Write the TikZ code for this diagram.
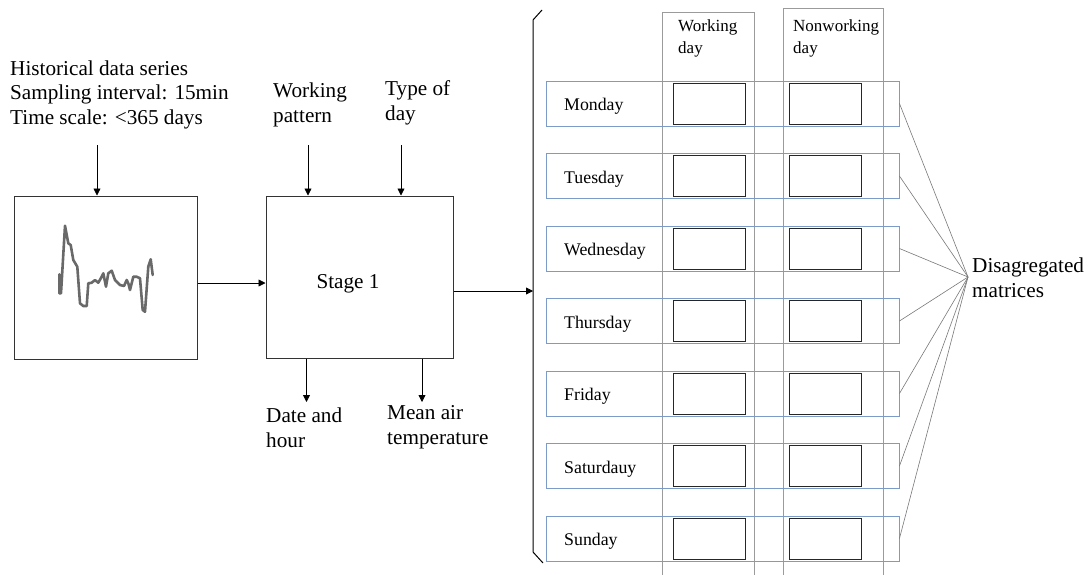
\documentclass[tikz,border=0pt]{standalone}
\usepackage{fontspec}
\setmainfont{Liberation Serif}
\usetikzlibrary{arrows.meta}
\definecolor{rowblue}{RGB}{125,155,200}
\definecolor{colgray}{RGB}{155,155,155}
\definecolor{wavegray}{RGB}{105,105,105}
\definecolor{linkgray}{RGB}{120,120,120}
\begin{document}
\begin{tikzpicture}[x=1pt,y=-1pt,
  big/.style={font=\fontsize{21.2}{24.5}\selectfont, inner sep=0pt, align=left, anchor=base west},
  small/.style={font=\fontsize{17}{22}\selectfont, inner sep=0pt, align=left, anchor=base west},
  daylbl/.style={font=\fontsize{17.8}{22}\selectfont, inner sep=0pt, anchor=base west},
  arr/.style={-{Triangle[length=7pt,width=7pt]}, line width=0.8pt},
  blk/.style={draw=black!80, line width=1pt, inner sep=0pt},
  rowbox/.style={draw=rowblue, line width=0.9pt, minimum width=353pt, minimum height=45pt, inner sep=0pt},
  cell/.style={draw=black!85, line width=0.9pt, minimum width=72pt, minimum height=41pt, inner sep=0pt},
  colbox/.style={draw=colgray, line width=1pt},
  link/.style={draw=linkgray, line width=0.6pt}
]
\useasboundingbox (0,0) rectangle (1092,574);

% ---- left part ----
\node[big] (hist) at (10,124) {Historical data series\\Sampling interval: 15min\\Time scale: <365 days};
\node[blk, minimum width=183pt, minimum height=163pt] (series) at (105.5,277.5) {};
\coordinate (histin) at (97,145);
\draw[arr] (histin) -- (histin |- series.north);

\draw[wavegray, line width=2.6pt, line join=round, line cap=round]
 plot coordinates {(59.3,274.3) (59.3,293.3) (61,293.3) (65,225.7) (68.3,243.3) (70.7,245) (73.3,260) (77.3,266.7) (80,303.3) (83.3,306) (86.7,306) (88.3,283.3) (91.7,282.7) (95,280) (98.3,282.7) (101.7,276.7) (103.3,273.3) (106,286.7) (108.3,273.3) (111.7,270.7) (115,280) (120,285) (124,286) (126.7,280) (128.3,283.3) (130,290) (133.3,276.7) (136.7,276.7) (140,278.3) (142.7,310) (145,311.7) (148.3,266.7) (150.7,259.3) (152.7,275)};

\node[blk, minimum width=187pt, minimum height=162pt] (stage) at (359.5,277) {};
\node[big, anchor=base] (stagelbl) at (348,288) {Stage 1};
\draw[arr] (series.east |- 0,283) -- (stage.west |- 0,283);

\node[big] (wp) at (273,122) {Working\\pattern};
\node[big] (tod) at (385,120) {Type of\\day};
\coordinate (wpin) at (308,145);
\coordinate (todin) at (401,145);
\draw[arr] (wpin) -- (wpin |- stage.north);
\draw[arr] (todin) -- (todin |- stage.north);

\node[big] (dh) at (266,447) {Date and\\hour};
\node[big] (mat) at (387,444) {Mean air\\temperature};
\coordinate (dhout) at (306.5,402);
\coordinate (matout) at (422,402);
\draw[arr] (dhout |- stage.south) -- (dhout);
\draw[arr] (matout |- stage.south) -- (matout);

% ---- bracket ----
\coordinate (brtop) at (542,10);
\coordinate (brbot) at (543,563);
\draw[black, line width=1pt] (brtop) -- (533,20) -- (533,552) -- (brbot);
\coordinate (brin) at (533,291);
\draw[arr] (stage.east |- brin) -- (brin);

% ---- columns ----
\draw[colbox] (662,580) -- (662,12) -- (754,12) -- (754,580);
\draw[colbox] (783,580) -- (783,8) -- (883,8) -- (883,580);
\node[small] (wdh) at (678,53) {Working\\day};
\node[small] (nwh) at (793,53) {Nonworking\\day};

% ---- rows ----
\coordinate (conv) at (968,277);
\foreach \i/\d in {0/Monday,1/Tuesday,2/Wednesday,3/Thursday,4/Friday,5/Saturdauy,6/Sunday}{
  \pgfmathsetmacro{\yc}{103.5+72.5*\i}
  \node[rowbox] (row\i) at (722.5,\yc) {};
  \node[daylbl] (lbl\i) at (564,\yc+7) {\d};
  \node[cell] (wc\i) at (709,\yc) {};
  \node[cell] (nc\i) at (825,\yc) {};
  \draw[link] (row\i.east) -- (conv);
}
\node[big] (dis) at (972,297) {Disagregated\\matrices};
\end{tikzpicture}
\end{document}
